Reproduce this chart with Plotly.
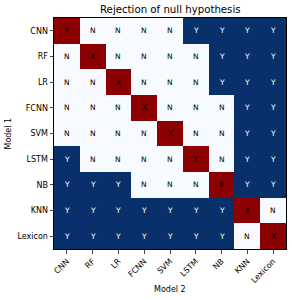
import plotly.graph_objects as go

models = ["CNN", "RF", "LR", "FCNN", "SVM", "LSTM", "NB", "KNN", "Lexicon"]
results = [
    ["X", "N", "N", "N", "N", "Y", "Y", "Y", "Y"],
    ["N", "X", "N", "N", "N", "N", "Y", "Y", "Y"],
    ["N", "N", "X", "N", "N", "N", "Y", "Y", "Y"],
    ["N", "N", "N", "X", "N", "N", "N", "Y", "Y"],
    ["N", "N", "N", "N", "X", "N", "N", "Y", "Y"],
    ["Y", "N", "N", "N", "N", "X", "N", "Y", "Y"],
    ["Y", "Y", "Y", "N", "N", "N", "X", "Y", "Y"],
    ["Y", "Y", "Y", "Y", "Y", "Y", "Y", "X", "N"],
    ["Y", "Y", "Y", "Y", "Y", "Y", "Y", "N", "X"],
]
title = "Rejection of null hypothesis"
xlabel = "Model 2"
ylabel = "Model 1"

code = {"N": 0, "Y": 1, "X": 2}
colors = {"N": "#f7fbff", "Y": "#08306b", "X": "#8b0000"}
text_colors = {"N": "black", "Y": "white", "X": "black"}

z = [[code[v] for v in row] for row in results]

fig = go.Figure()
fig.add_trace(go.Heatmap(
    z=z, x=models, y=models,
    colorscale=[[0, colors["N"]], [0.333, colors["N"]], [0.333, colors["Y"]],
                [0.667, colors["Y"]], [0.667, colors["X"]], [1, colors["X"]]],
    zmin=-0.5, zmax=2.5, showscale=False, xgap=0, ygap=0, hoverinfo="skip",
))

for i, row in enumerate(results):
    for j, v in enumerate(row):
        fig.add_annotation(x=models[j], y=models[i], text=v, showarrow=False,
                           font=dict(size=7.5, color=text_colors[v],
                                     family="DejaVu Sans"))

fig.add_annotation(text=title, xref="paper", yref="paper", x=0.5, y=1,
                   yshift=9, showarrow=False, xanchor="center", yanchor="middle",
                   font=dict(size=10.2))
fig.add_annotation(text=xlabel, xref="paper", yref="paper", x=0.5, y=0,
                   yshift=-40, showarrow=False, xanchor="center", yanchor="middle",
                   font=dict(size=8))
fig.add_annotation(text=ylabel, xref="paper", yref="paper", x=0, y=0.5,
                   xshift=-46, textangle=-90, showarrow=False,
                   xanchor="center", yanchor="middle", font=dict(size=8))

fig.update_layout(
    width=292, height=300,
    margin=dict(l=54, r=6, t=18, b=51, autoexpand=False),
    paper_bgcolor="white", plot_bgcolor="white",
    font=dict(family="DejaVu Sans", size=8, color="black"),
    xaxis=dict(tickangle=-45, ticks="outside", ticklen=3.5, tickwidth=0.8,
               automargin=False, tickfont=dict(size=8),
               showline=True, linecolor="black", linewidth=1, mirror=True,
               showgrid=False, zeroline=False),
    yaxis=dict(autorange="reversed", ticks="outside", ticklen=3.5, tickwidth=0.8,
               automargin=False, tickfont=dict(size=8),
               showline=True, linecolor="black", linewidth=1, mirror=True,
               showgrid=False, zeroline=False),
)

fig.write_html("out.html", config={"displayModeBar": False},
               post_script="document.body.style.margin='0';document.body.style.overflow='hidden';")
